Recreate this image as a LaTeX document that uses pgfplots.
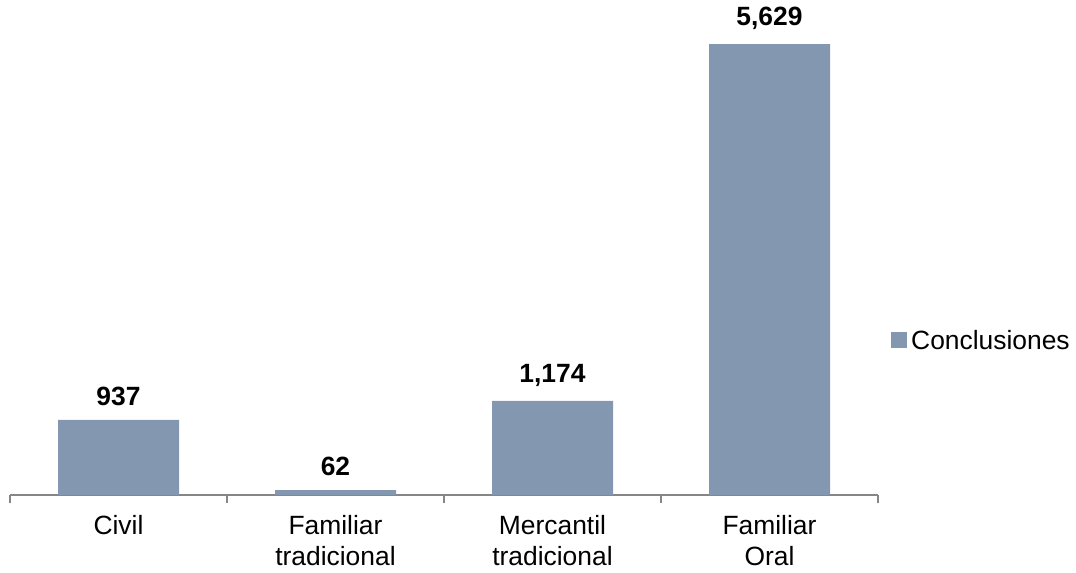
\documentclass[border=0pt]{standalone}
\usepackage{pgfplots}
\pgfplotsset{compat=1.18}
\usepackage{fontspec}
\setmainfont{Liberation Sans}
\definecolor{barc}{HTML}{8497B0}
\definecolor{axc}{HTML}{868686}
\begin{document}
\begin{tikzpicture}
\path[use as bounding box] (-10bp,-78bp) rectangle (1066bp,495bp);
\begin{axis}[
  scale only axis,
  width=868bp, height=480.7bp,
  xmin=-0.5, xmax=3.5, ymin=0, ymax=6000,
  axis y line=none,
  axis x line*=bottom,
  x axis line style={axc, line width=1.2pt, -},
  xtick={0,1,2,3},
  xticklabels={Civil, Familiar\\tradicional, Mercantil\\tradicional, Familiar\\Oral},
  major tick length=0pt,
  minor xtick={-0.5,0.5,1.5,2.5,3.5},
  minor tick length=8bp,
  every minor tick/.style={axc, line width=1.2pt},
  xtick pos=bottom,
  tick align=outside,
  xticklabel style={align=center, font=\fontsize{26.5}{31}\selectfont, yshift=-17bp},
  ybar, bar width=121bp,
  nodes near coords={\pgfmathprintnumber[fixed,assume math mode=true,1000 sep={,}]{\pgfplotspointmeta}},
  nodes near coords style={font=\fontsize{26.5}{30}\selectfont\bfseries, black, yshift=11bp},
  legend style={draw=none, at={(1.015,0.322)}, anchor=west, font=\fontsize{26.5}{30}\selectfont, inner sep=0pt},
  legend image code/.code={\fill[barc] (0bp,-8bp) rectangle (16bp,8bp);},
  clip=false,
]
\addplot[fill=barc, draw=none] coordinates {(0,937) (1,62) (2,1174) (3,5629)};
\addlegendentry{\hspace{2bp}Conclusiones}
\end{axis}
\end{tikzpicture}
\end{document}
